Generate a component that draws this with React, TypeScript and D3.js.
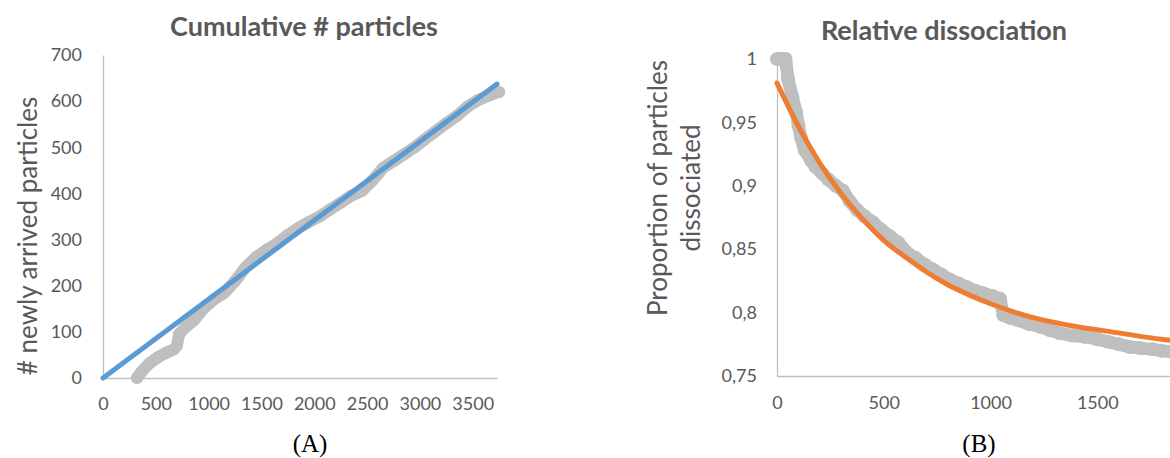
import * as d3 from 'd3';
import React, { useRef, useEffect } from 'react';

// (A) cumulative number of newly arrived particles over time
const arrivalTimes = [322, 370, 440, 520, 600, 670, 700, 720, 780, 860, 950, 1050, 1150, 1250, 1350, 1450, 1550, 1650, 1750, 1850, 1950, 2050, 2150, 2250, 2350, 2450, 2550, 2650, 2750, 2850, 2950, 3050, 3150, 3250, 3350, 3450, 3550, 3650, 3720, 3750];
const arrivalCounts = [0, 15, 32, 45, 55, 62, 70, 95, 110, 125, 150, 170, 185, 210, 240, 262, 278, 292, 310, 325, 338, 350, 365, 380, 395, 405, 428, 455, 470, 485, 500, 518, 535, 552, 568, 588, 602, 612, 618, 620];
// linear trend line end points
const trendTimes = [0, 3730];
const trendCounts = [0, 637];
const xTicksA = [0, 500, 1000, 1500, 2000, 2500, 3000, 3500];
const yTicksA = [0, 100, 200, 300, 400, 500, 600, 700];

// (B) proportion of particles still dissociated
const dissocTimes = [0, 20, 40, 52, 72, 90, 100, 112, 130, 160, 180, 210, 240, 275, 310, 340, 375, 410, 450, 490, 530, 570, 610, 650, 690, 730, 770, 810, 850, 890, 930, 970, 1010, 1045, 1060, 1090, 1130, 1180, 1230, 1280, 1320, 1380, 1440, 1500, 1550, 1600, 1650, 1700, 1760, 1800, 1850];
const dissocValues = [1, 1, 1, 0.984, 0.97, 0.958, 0.948, 0.938, 0.928, 0.92, 0.915, 0.91, 0.905, 0.9, 0.896, 0.888, 0.881, 0.876, 0.871, 0.865, 0.86, 0.855, 0.847, 0.843, 0.838, 0.834, 0.83, 0.826, 0.823, 0.82, 0.817, 0.815, 0.813, 0.811, 0.798, 0.796, 0.794, 0.791, 0.789, 0.786, 0.784, 0.782, 0.781, 0.779, 0.777, 0.775, 0.773, 0.772, 0.771, 0.77, 0.769];
const fitTimes = [0, 100, 200, 300, 400, 500, 600, 700, 800, 900, 1000, 1200, 1400, 1600, 1800, 2000];
const fitValues = [0.981, 0.947, 0.918, 0.894, 0.874, 0.857, 0.844, 0.832, 0.822, 0.814, 0.807, 0.796, 0.789, 0.784, 0.779, 0.776];
const xTicksB = [0, 500, 1000, 1500];
const yTicksB = [0.75, 0.8, 0.85, 0.9, 0.95, 1];

const font = "Lato, 'Open Sans', sans-serif";
const textColor = '#595959';
const grey = '#BFBFBF';

export default function App() {
    const ref = useRef(null);

    useEffect(() => {
        draw();
    }, []);

    const styleAxis = (g) => {
        g.select('.domain').attr('stroke', grey).attr('stroke-width', 1.3);
        g.selectAll('text').attr('fill', textColor).attr('font-family', font).attr('font-size', 18);
    };

    const draw = () => {
        const svg = d3.select(ref.current);
        svg.selectAll('*').remove();
        const plain = (v) => String(v);

        // ---------- panel A ----------
        const xA = d3.scaleLinear().domain([0, 3730]).range([103, 497]);
        const yA = d3.scaleLinear().domain([0, 700]).range([378, 55]);

        svg.append('g')
            .attr('transform', 'translate(0,' + yA(0) + ')')
            .call(d3.axisBottom(xA).tickValues(xTicksA).tickFormat(plain).tickSize(0).tickSizeOuter(0).tickPadding(19))
            .call(styleAxis);
        svg.append('g')
            .attr('transform', 'translate(' + xA(0) + ',0)')
            .call(d3.axisLeft(yA).tickValues(yTicksA).tickFormat(plain).tickSize(0).tickSizeOuter(0).tickPadding(21))
            .call(styleAxis);

        const arrivals = arrivalTimes.map((t, i) => [t, arrivalCounts[i]]);
        const lineA = d3.line().x(d => xA(d[0])).y(d => yA(d[1]));
        svg.append('path')
            .attr('d', lineA(arrivals))
            .attr('fill', 'none')
            .attr('stroke', grey)
            .attr('stroke-width', 12)
            .attr('stroke-linejoin', 'round')
            .attr('stroke-linecap', 'round');
        svg.append('g').selectAll('circle').data(arrivals).enter()
            .append('circle')
            .attr('cx', d => xA(d[0]))
            .attr('cy', d => yA(d[1]))
            .attr('r', 6)
            .attr('fill', grey);

        const trend = trendTimes.map((t, i) => [t, trendCounts[i]]);
        svg.append('path')
            .attr('d', lineA(trend))
            .attr('fill', 'none')
            .attr('stroke', '#5B9BD5')
            .attr('stroke-width', 5)
            .attr('stroke-linecap', 'round');

        svg.append('text')
            .attr('x', 304).attr('y', 36)
            .attr('text-anchor', 'middle')
            .attr('font-family', font).attr('font-weight', 'bold').attr('font-size', 27)
            .attr('fill', textColor)
            .text('Cumulative # particles');
        svg.append('text')
            .attr('transform', 'translate(27,236) rotate(-90)')
            .attr('text-anchor', 'middle')
            .attr('dominant-baseline', 'central')
            .attr('font-family', font).attr('font-size', 26)
            .attr('fill', textColor)
            .text('# newly arrived particles');

        // ---------- panel B ----------
        const xB = d3.scaleLinear().domain([0, 2000]).range([777, 1204]);
        const yB = d3.scaleLinear().domain([0.75, 1]).range([376, 59]);
        const comma = (v) => String(v).replace('.', ',');

        svg.append('g')
            .attr('transform', 'translate(0,' + yB(0.75) + ')')
            .call(d3.axisBottom(xB).tickValues(xTicksB).tickFormat(plain).tickSize(0).tickSizeOuter(0).tickPadding(20))
            .call(styleAxis);
        svg.append('g')
            .attr('transform', 'translate(' + xB(0) + ',0)')
            .call(d3.axisLeft(yB).tickValues(yTicksB).tickSize(0).tickSizeOuter(0).tickPadding(20).tickFormat(comma))
            .call(styleAxis);

        const dissoc = dissocTimes.map((t, i) => [t, dissocValues[i]]);
        const lineB = d3.line().x(d => xB(d[0])).y(d => yB(d[1]));
        svg.append('path')
            .attr('d', lineB(dissoc))
            .attr('fill', 'none')
            .attr('stroke', grey)
            .attr('stroke-width', 13)
            .attr('stroke-linejoin', 'round')
            .attr('stroke-linecap', 'round');
        svg.append('g').selectAll('circle').data(dissoc).enter()
            .append('circle')
            .attr('cx', d => xB(d[0]))
            .attr('cy', d => yB(d[1]))
            .attr('r', 7)
            .attr('fill', grey);

        const fit = fitTimes.map((t, i) => [t, fitValues[i]]);
        svg.append('path')
            .attr('d', lineB.curve(d3.curveMonotoneX)(fit))
            .attr('fill', 'none')
            .attr('stroke', '#ED7D31')
            .attr('stroke-width', 5)
            .attr('stroke-linecap', 'round');

        svg.append('text')
            .attr('x', 944).attr('y', 40)
            .attr('text-anchor', 'middle')
            .attr('font-family', font).attr('font-weight', 'bold').attr('font-size', 27)
            .attr('fill', textColor)
            .text('Relative dissociation');
        svg.append('text')
            .attr('transform', 'translate(657,188) rotate(-90)')
            .attr('text-anchor', 'middle')
            .attr('dominant-baseline', 'central')
            .attr('font-family', font).attr('font-size', 26)
            .attr('fill', textColor)
            .text('Proportion of particles');
        svg.append('text')
            .attr('transform', 'translate(690,188) rotate(-90)')
            .attr('text-anchor', 'middle')
            .attr('dominant-baseline', 'central')
            .attr('font-family', font).attr('font-size', 26)
            .attr('fill', textColor)
            .text('dissociated');

        // panel letters
        [['(A)', 310], ['(B)', 979]].forEach(([label, x]) => {
            svg.append('text')
                .attr('x', x).attr('y', 452)
                .attr('text-anchor', 'middle')
                .attr('font-family', "'Liberation Serif', 'Times New Roman', serif")
                .attr('font-size', 25)
                .attr('fill', '#000')
                .text(label);
        });
    };

    return (
        <svg ref={ref} width={1170} height={458}
            style={{ position: 'absolute', left: 0, top: 0, background: '#fff' }}>
        </svg>
    );
}
